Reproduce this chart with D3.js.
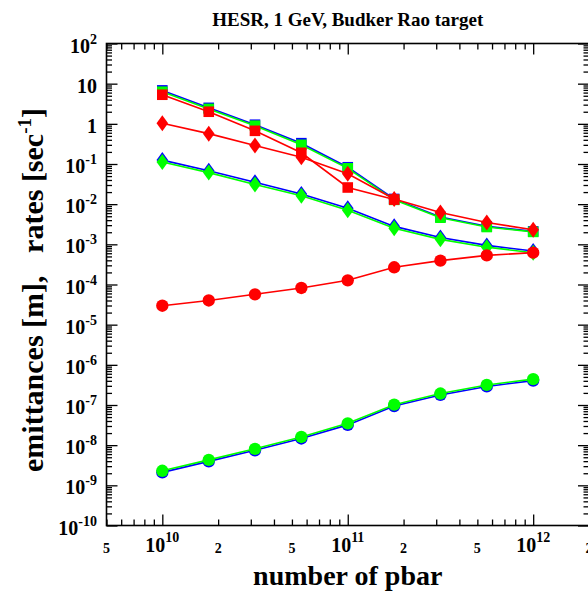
<!DOCTYPE html>
<meta charset="utf-8">
<style>
  body { margin: 0; background: #fff; }
  text { font-family: "Liberation Serif", "Times New Roman", serif; font-weight: bold; fill: #000; }
</style>
<body></body>
<script src="https://d3js.org/d3.v7.min.js"></script>
<script>

const width = 588, height = 591;

// number of pbar in the ring
const pbar = [1e10, 1.78e10, 3.16e10, 5.62e10, 1e11, 1.78e11, 3.16e11, 5.62e11, 1e12];

// rates [1/s], squares
const rateSqBlue  = [6.8, 2.5, 0.95, 0.33, 0.083, 0.0135, 0.0048, 0.0028, 0.0021];
const rateSqGreen = [6.3, 2.35, 0.9, 0.30, 0.078, 0.0128, 0.0046, 0.0027, 0.00204];
const rateSqRed   = [5.3, 2.0, 0.67, 0.19, 0.026, 0.013];

// rates [1/s], diamonds
const rateDiaRed   = [1.03, 0.57, 0.29, 0.148, 0.057, 0.0135, 0.0062, 0.0035, 0.0023];
const rateDiaBlue  = [0.125, 0.068, 0.035, 0.018, 0.0079, 0.0028, 0.00148, 0.00094, 0.00068];
const rateDiaGreen = [0.112, 0.061, 0.031, 0.0162, 0.0071, 0.0025, 0.00133, 0.00085, 0.00062];

// emittances [m], circles
const emitRed   = [2.96e-5, 4.0e-5, 5.7e-5, 8.2e-5, 1.27e-4, 2.68e-4, 3.93e-4, 5.3e-4, 6.2e-4];
const emitBlue  = [2.1e-9, 3.95e-9, 7.45e-9, 1.47e-8, 3.2e-8, 9.4e-8, 1.78e-7, 2.9e-7, 4.05e-7];
const emitGreen = [2.3e-9, 4.3e-9, 8.1e-9, 1.6e-8, 3.5e-8, 1.02e-7, 1.93e-7, 3.16e-7, 4.4e-7];

// tick labels
const xMajorExp = [10, 11, 12];
const xMinorLabels = [5e9, 2e10, 5e10, 2e11, 5e11, 2e12];
const yExp = d3.range(-10, 3);

const x = d3.scaleLog().domain([5e9, 2e12]).range([106.5, 589]);
const y = d3.scaleLog().domain([1e-10, 1e2]).range([525.5, 43.5]);

const svg = d3.select("body").append("svg")
    .attr("width", width)
    .attr("height", height);

// minor / major tick values
const xMajor = xMajorExp.map(e => Math.pow(10, e));
const xMinor = [];
for (let e = 9; e <= 12; e++)
  for (let k = 2; k <= 9; k++) {
    const v = k * Math.pow(10, e);
    if (v > 5e9 * 0.999 && v < 2e12 * 1.001) xMinor.push(v);
  }
const yMajor = yExp.map(e => Math.pow(10, e));
const yMinor = [];
for (let e = -10; e < 2; e++)
  for (let k = 2; k <= 9; k++) yMinor.push(k * Math.pow(10, e));

function ticks(axis, vals, size, tr) {
  svg.append("g")
      .attr("transform", tr)
      .call(axis.tickValues(vals).tickSize(size).tickFormat(""))
      .call(g => g.select(".domain").remove())
      .call(g => g.selectAll("line").attr("stroke", "#000").attr("stroke-width", 1.3));
}

const [x0, x1] = x.range();
const [y0, y1] = y.range();

ticks(d3.axisBottom(x), xMajor, -11, `translate(0,${y0})`);
ticks(d3.axisBottom(x), xMinor, -6, `translate(0,${y0})`);
ticks(d3.axisTop(x), xMajor, -11, `translate(0,${y1})`);
ticks(d3.axisTop(x), xMinor, -6, `translate(0,${y1})`);
ticks(d3.axisLeft(y), yMajor, -11, `translate(${x0},0)`);
ticks(d3.axisLeft(y), yMinor, -5.5, `translate(${x0},0)`);
ticks(d3.axisRight(y), yMajor, -11, `translate(${x1},0)`);
ticks(d3.axisRight(y), yMinor, -5.5, `translate(${x1},0)`);

// frame
svg.append("rect")
    .attr("x", x0).attr("y", y1)
    .attr("width", x1 - x0).attr("height", y0 - y1)
    .attr("fill", "none").attr("stroke", "#000").attr("stroke-width", 1.6);

// y tick labels
yExp.forEach(e => {
  const t = svg.append("text")
      .attr("x", 97)
      .attr("y", y(Math.pow(10, e)) + 9)
      .attr("text-anchor", "end")
      .attr("font-size", 20);
  if (e === 0) t.text("1");
  else if (e === 1) t.text("10");
  else {
    t.append("tspan").text("10");
    t.append("tspan").attr("font-size", 14).attr("dy", -9).text(e);
  }
});

// x tick labels
xMajorExp.forEach(e => {
  const t = svg.append("text")
      .attr("x", x(Math.pow(10, e)))
      .attr("y", 552)
      .attr("text-anchor", "middle")
      .attr("font-size", 20);
  t.append("tspan").text("10");
  t.append("tspan").attr("font-size", 14).attr("dy", -10).text(e);
});
xMinorLabels.forEach(v => {
  svg.append("text")
      .attr("x", x(v))
      .attr("y", 553)
      .attr("text-anchor", "middle")
      .attr("font-size", 14)
      .text(String(Math.round(v / Math.pow(10, Math.floor(Math.log10(v))))));
});

// titles
svg.append("text")
    .attr("x", (x0 + x1) / 2).attr("y", 26)
    .attr("text-anchor", "middle")
    .attr("font-size", 19)
    .text("HESR, 1 GeV, Budker Rao target");

svg.append("text")
    .attr("x", (x0 + x1) / 2).attr("y", 584.5)
    .attr("text-anchor", "middle")
    .attr("font-size", 28)
    .text("number of pbar");

const yt = svg.append("text")
    .attr("transform", "translate(43,290) rotate(-90)")
    .attr("text-anchor", "middle")
    .attr("font-size", 30)
    .style("white-space", "pre");
yt.append("tspan").text("emittances [m],   rates [sec");
yt.append("tspan").attr("font-size", 19).attr("dy", -12).text("-1");
yt.append("tspan").attr("dy", 12).text("]");

// series
const line = d3.line().x(d => x(d[0])).y(d => y(d[1]));

const shapes = {
  square: "M-5.3,-5.3H5.3V5.3H-5.3Z",
  diamond: "M0,-8L5.8,0L0,8L-5.8,0Z",
  circle: d3.symbol(d3.symbolCircle, 120)()
};

const series = [
  { vals: rateSqBlue,   color: "#0000ff", shape: "square" },
  { vals: rateDiaBlue,  color: "#0000ff", shape: "diamond" },
  { vals: emitBlue,     color: "#0000ff", shape: "circle" },
  { vals: rateSqGreen,  color: "#00ff00", shape: "square" },
  { vals: rateDiaGreen, color: "#00ff00", shape: "diamond" },
  { vals: emitGreen,    color: "#00ff00", shape: "circle" },
  { vals: rateSqRed,    color: "#ff0000", shape: "square" },
  { vals: rateDiaRed,   color: "#ff0000", shape: "diamond" },
  { vals: emitRed,      color: "#ff0000", shape: "circle" }
];

series.forEach(s => {
  const pts = s.vals.map((v, i) => [pbar[i], v]);
  const g = svg.append("g");
  g.append("path")
      .attr("d", line(pts))
      .attr("fill", "none")
      .attr("stroke", s.color)
      .attr("stroke-width", 1.6);
  g.selectAll("path.m")
    .data(pts)
    .join("path")
      .attr("class", "m")
      .attr("transform", d => `translate(${x(d[0])},${y(d[1])})`)
      .attr("d", shapes[s.shape])
      .attr("fill", s.color);
});

</script>
